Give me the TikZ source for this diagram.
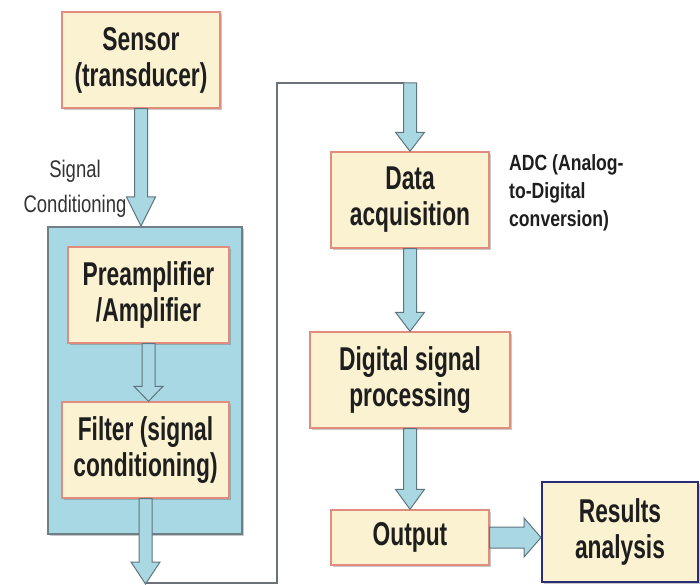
\documentclass[tikz,border=0pt]{standalone}
\usepackage{fontspec}
\setmainfont{Liberation Sans}
\newfontfamily\boxfam{Liberation Sans}[FakeStretch=0.69]
\newfontfamily\notefam{Liberation Sans}[FakeStretch=0.77]
\newfontfamily\adcfam{Liberation Sans}[FakeStretch=0.80]
\usetikzlibrary{calc,shadows}

\definecolor{cream}{HTML}{FBF2D2}
\definecolor{boxedge}{HTML}{E28C7E}
\definecolor{condblue}{HTML}{A8D8E3}
\definecolor{condedge}{HTML}{6E7F88}
\definecolor{arrowfill}{HTML}{A9D8E2}
\definecolor{arrowedge}{HTML}{5E7580}
\definecolor{navy}{HTML}{2A2C75}
\definecolor{wiregray}{HTML}{6C7278}
\definecolor{inkgray}{HTML}{1E1E1E}

\newcommand{\boxfont}{\boxfam\bfseries\fontsize{33}{36}\selectfont}
\newcommand{\notefont}{\notefam\fontsize{24}{35}\selectfont}
\newcommand{\adcfont}{\adcfam\bfseries\fontsize{22}{28}\selectfont}

\tikzset{
  softshadow/.style={drop shadow={shadow xshift=2pt, shadow yshift=-2pt, opacity=.3, fill=black!70}},
  stage/.style={draw=boxedge, fill=cream, line width=1.4pt, inner sep=0pt,
                align=center, font=\boxfont, text=inkgray, softshadow},
  condbox/.style={draw=condedge, fill=condblue, line width=2pt, inner sep=0pt, softshadow},
  flowarrow/.style={draw=arrowedge, fill=arrowfill, line width=1pt, line join=miter},
  wire/.style={draw=wiregray, line width=1.6pt},
  note/.style={inner sep=0pt, align=center, font=\notefont, text=black!80},
}

% Downward block arrow: shaft from #2, tip at the height of #3
\newcommand{\flowdown}[3][18pt]{%
  \filldraw[flowarrow] let \p1=(#2), \p2=(#3) in
    (\x1-6.5pt,\y1) -- (\x1+6.5pt,\y1) -- (\x1+6.5pt,\y2+#1) -- (\x1+14.5pt,\y2+#1)
    -- (\x1,\y2) -- (\x1-14.5pt,\y2+#1) -- (\x1-6.5pt,\y2+#1) -- cycle;}

% Rightward block arrow: shaft from #1, tip at the x of #2
\newcommand{\flowright}[2]{%
  \filldraw[flowarrow] let \p1=(#1), \p2=(#2) in
    (\x1,\y1+10.5pt) -- (\x2-17pt,\y1+10.5pt) -- (\x2-17pt,\y1+19.5pt)
    -- (\x2,\y1) -- (\x2-17pt,\y1-19.5pt) -- (\x2-17pt,\y1-10.5pt) -- (\x1,\y1-10.5pt) -- cycle;}

\begin{document}
\begin{tikzpicture}[x=1pt, y=-1pt]
  \useasboundingbox (0,0) rectangle (700,585);
  \fill[white] (0,0) rectangle (700,585);

  % left column
  \node[stage, minimum width=158pt, minimum height=96pt] (sensor) at (141,60) {Sensor\\(transducer)};
  \node[condbox, minimum width=194pt, minimum height=307pt] (sc) at (145,380.5) {};
  \node[stage, minimum width=161pt, minimum height=96pt] (pre) at (148.5,295) {Preamplifier\\/Amplifier};
  \node[stage, minimum width=167pt, minimum height=96pt] (filter) at (145.5,450) {Filter (signal\\conditioning)};
  \node[note, anchor=north] (sclabel) at (75,160) {Signal\\Conditioning};

  % right column
  \node[stage, minimum width=158pt, minimum height=96pt] (data) at (410,200) {Data\\acquisition};
  \node[stage, minimum width=200pt, minimum height=96pt] (dsp) at (410,380) {Digital signal\\processing};
  \node[stage, minimum width=158pt, minimum height=55pt] (out) at (410,537.5) {Output};
  \node[stage, draw=navy, line width=2pt, minimum width=156pt, minimum height=100pt] (res) at (620,532) {Results\\analysis};
  \node[inner sep=0pt, align=left, font=\adcfont, text=inkgray, anchor=north west] (adc) at (509,154)
    {ADC (Analog-\\to-Digital\\conversion)};

  % connecting wire between the two columns
  \coordinate (ftip) at (146,584);
  \coordinate (turnlow) at (277,583);
  \coordinate (turnhigh) at (277,83);
  \coordinate (dtop) at ($(data.north |- turnhigh)+(-6.5,0)$);
  \coordinate (dstart) at (data.north |- turnhigh);
  \draw[wire] (ftip |- turnlow) -- (turnlow) -- (turnhigh) -- (dtop);

  % block arrows
  \flowdown[29pt]{sensor.south}{sc.north}
  \flowdown[15pt]{pre.south}{filter.north}
  \flowdown[22pt]{filter.south}{ftip}
  \flowdown[19pt]{dstart}{data.north}
  \flowdown[19pt]{data.south}{dsp.north}
  \flowdown[20pt]{dsp.south}{out.north}
  \flowright{out.east}{res.west}
\end{tikzpicture}
\end{document}
